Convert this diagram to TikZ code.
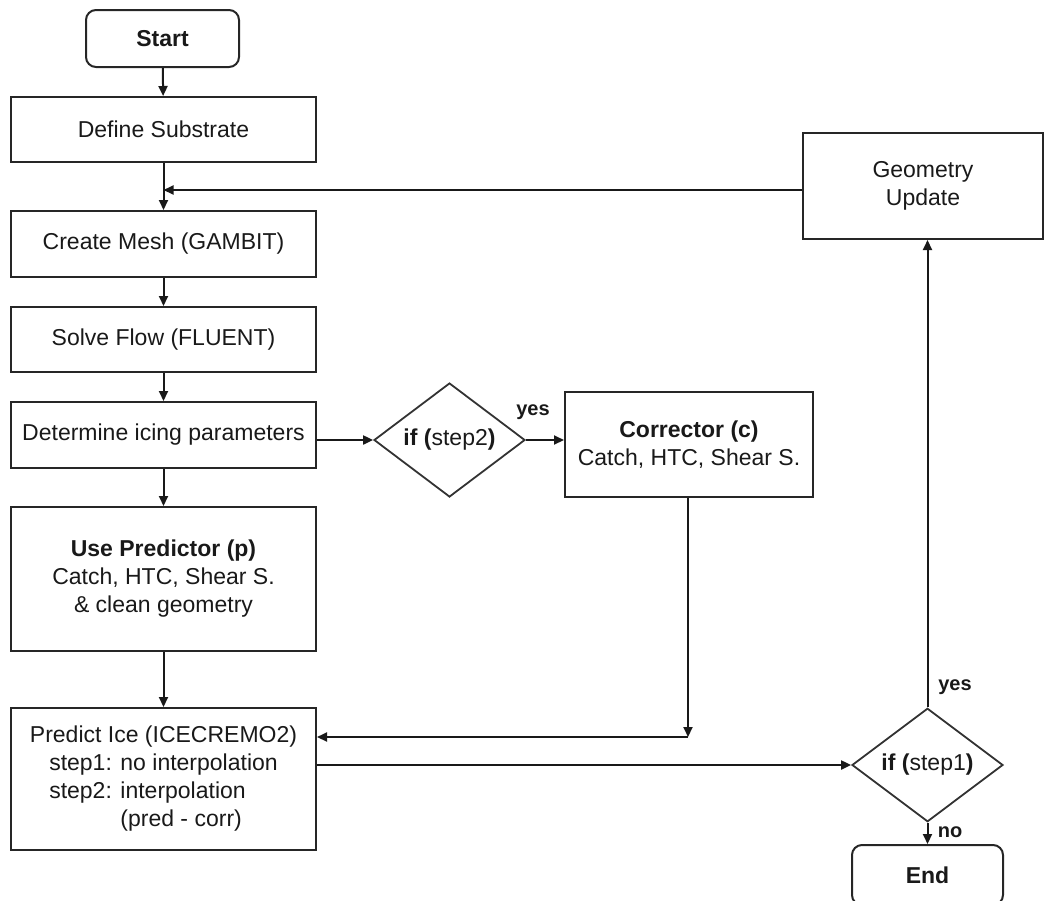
\documentclass[tikz,border=0pt]{standalone}
\usepackage{fontspec}
\usepackage{calc}
\setmainfont{Liberation Sans}
\usetikzlibrary{shapes.geometric,arrows.meta}
\begin{document}
\begin{tikzpicture}[x=1pt,y=-1pt,
  every node/.style={font=\fontsize{23}{28}\selectfont, text=black!90},
  proc/.style={draw=black!85, line width=2pt, rectangle, minimum width=305pt,
    inner sep=0pt, align=center},
  term/.style={draw=black!85, line width=2pt, rectangle, rounded corners=10pt,
    inner sep=0pt, align=center},
  decision/.style={draw=black!80, line width=1.8pt, diamond, minimum width=151pt,
    minimum height=114pt, inner sep=0pt},
  flow/.style={draw=black!90, line width=2pt, -{Triangle[length=10pt,width=9pt]}},
  lbl/.style={font=\fontsize{20}{24}\selectfont\bfseries}
]
\useasboundingbox (0,0) rectangle (1044,900);

% main column
\node[term, minimum width=153pt, minimum height=57pt] (start) at (162.5,38.5) {\bfseries Start};
\node[proc, minimum height=65pt] (define) at (163.5,129.5) {Define Substrate};
\node[proc, minimum height=66pt] (mesh) at (163.5,244) {Create Mesh (GAMBIT)};
\node[proc, minimum height=65pt] (flow) at (163.5,339.5) {Solve Flow (FLUENT)};
\node[proc, minimum height=66pt] (icing) at (163.5,435) {Determine icing parameters};
\node[proc, minimum height=144pt] (pred) at (163.5,579)
  {\textbf{Use Predictor (p)}\\Catch, HTC, Shear S.\\\& clean geometry};
\node[proc, minimum height=142pt] (ice) at (163.5,779)
  {Predict Ice (ICECREMO2)\\
   step1: no interpolation\\
   \makebox[\widthof{step1: no interpolation}][l]{step2: interpolation}\\
   \makebox[\widthof{step1: no interpolation}][l]{\phantom{step2: }(pred - corr)}};

% corrector branch
\node[decision] (d2) at (449.5,440) {\textbf{if (}step2\textbf{)}};
\node[proc, minimum width=248pt, minimum height=105pt] (corr) at (689,444.5)
  {\textbf{Corrector (c)}\\Catch, HTC, Shear S.};

% right column
\node[proc, minimum width=240pt, minimum height=106pt] (geo) at (923,186) {Geometry\\Update};
\node[decision, minimum height=113pt] (d1) at (927.5,765) {\textbf{if (}step1\textbf{)}};
\node[term, minimum width=151pt, minimum height=60pt] (end) at (927.5,875) {\bfseries End};

% connectors
\coordinate (join) at (163.5,190);
\coordinate (bend) at (688,737);
\draw[flow] (start) -- (define);
\draw[flow] (define) -- (mesh);
\draw[flow] (geo.west |- join) -- (join);
\draw[flow] (mesh) -- (flow);
\draw[flow] (flow) -- (icing);
\draw[flow] (icing) -- (pred);
\draw[flow] (pred) -- (ice);
\draw[flow] (icing.east |- d2.west) -- (d2.west);
\draw[flow] (d2.east) -- (corr.west |- d2.east);
\draw[flow] (corr.south -| bend) -- (bend);
\draw[flow] (bend) -- (ice.east |- bend);
\draw[flow] (ice.east |- d1.west) -- (d1.west);
\draw[flow] (d1.north) -- (d1.north |- geo.south);
\draw[flow] (d1.south) -- (end.north);

% branch labels
\node[lbl] at (533,412) {yes};
\node[lbl] at (955,687) {yes};
\node[lbl] at (950,832) {no};
\end{tikzpicture}
\end{document}
